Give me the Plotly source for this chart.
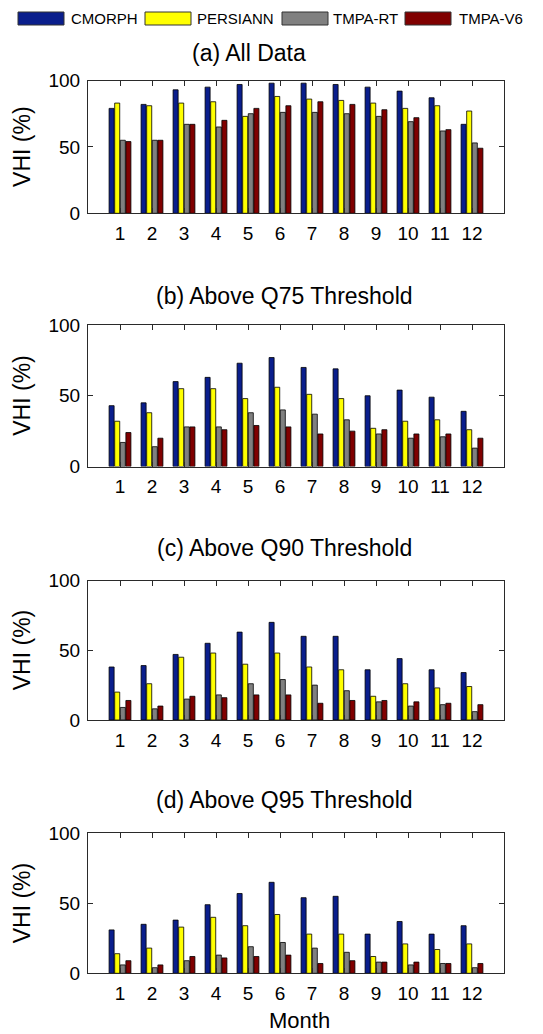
import plotly.graph_objects as go
from plotly.subplots import make_subplots

# month numbers on the x axis
months = list(range(1, 13))

products = ["CMORPH", "PERSIANN", "TMPA-RT", "TMPA-V6"]
colors = ["#0A1E8C", "#FFFF00", "#808080", "#800000"]

# (a) All Data
all_cmorph = [79, 82, 93, 95, 97, 98, 98, 97, 95, 92, 87, 67]
all_persiann = [83, 81, 83, 84, 73, 88, 86, 85, 83, 79, 81, 77]
all_rt = [55, 55, 67, 65, 75, 76, 76, 75, 73, 69, 62, 53]
all_v6 = [54, 55, 67, 70, 79, 81, 84, 82, 78, 72, 63, 49]

# (b) Above Q75
q75_cmorph = [43, 45, 60, 63, 73, 77, 70, 69, 50, 54, 49, 39]
q75_persiann = [32, 38, 55, 55, 48, 56, 51, 48, 27, 32, 33, 26]
q75_rt = [17, 14, 28, 28, 38, 40, 37, 33, 23, 20, 21, 13]
q75_v6 = [24, 20, 28, 26, 29, 28, 23, 25, 26, 23, 23, 20]

# (c) Above Q90
q90_cmorph = [38, 39, 47, 55, 63, 70, 60, 60, 36, 44, 36, 34]
q90_persiann = [20, 26, 45, 48, 40, 48, 38, 36, 17, 26, 23, 24]
q90_rt = [9, 8, 15, 18, 26, 29, 25, 21, 13, 10, 11, 6]
q90_v6 = [14, 10, 17, 16, 18, 18, 12, 14, 14, 13, 12, 11]

# (d) Above Q95
q95_cmorph = [31, 35, 38, 49, 57, 65, 54, 55, 28, 37, 28, 34]
q95_persiann = [14, 18, 33, 40, 34, 42, 28, 28, 12, 21, 17, 21]
q95_rt = [6, 4, 9, 13, 19, 22, 18, 15, 8, 6, 7, 4]
q95_v6 = [9, 6, 12, 11, 12, 13, 7, 9, 8, 8, 7, 7]

panels = [
    ("(a) All Data", [all_cmorph, all_persiann, all_rt, all_v6]),
    ("(b) Above Q75 Threshold", [q75_cmorph, q75_persiann, q75_rt, q75_v6]),
    ("(c) Above Q90 Threshold", [q90_cmorph, q90_persiann, q90_rt, q90_v6]),
    ("(d) Above Q95 Threshold", [q95_cmorph, q95_persiann, q95_rt, q95_v6]),
]

# page has an 8px body margin, so the figure is drawn 8px smaller and
# all positions below are given in window pixels
OFF = 8
W, H = 543 - OFF, 1034 - OFF
FONT = "Liberation Sans, Arial, sans-serif"
AXIS_COLOR = "#2a2a2a"

# panel extents in pixels (top, bottom), title centre (x, y)
panel_px = [
    (80.5, 213.3, 249, 53),
    (325, 466.5, 284, 296),
    (580.5, 720, 284, 548),
    (833.3, 973.3, 284, 800),
]
x_px = (88, 504)


def px_x(v):
    return (v - OFF) / W


def px_y(v):
    return 1 - (v - OFF) / H


def label(x, y, text, size, **kw):
    fig.add_annotation(
        x=px_x(x), y=px_y(y), xref="paper", yref="paper",
        xanchor=kw.pop("xanchor", "center"), yanchor="middle",
        text=text, showarrow=False,
        font=dict(family=FONT, size=size, color="black"), **kw,
    )


fig = make_subplots(rows=4, cols=1)

for i, (title, series) in enumerate(panels):
    row = i + 1
    for name, vals, col in zip(products, series, colors):
        fig.add_trace(
            go.Bar(
                x=months, y=vals, name=name, showlegend=False,
                marker=dict(color=col, line=dict(color="black", width=0.8)),
            ),
            row=row, col=1,
        )
    top, bottom, title_x, title_y = panel_px[i]
    xa = "xaxis" if row == 1 else f"xaxis{row}"
    ya = "yaxis" if row == 1 else f"yaxis{row}"
    fig.layout[xa].update(
        domain=[px_x(x_px[0]), px_x(x_px[1])], range=[0, 13], automargin=False,
        tickmode="array", tickvals=months, ticks="inside", ticklen=5,
        tickcolor=AXIS_COLOR, showline=True, linecolor=AXIS_COLOR, linewidth=1,
        mirror="ticks", showgrid=False, zeroline=False, ticklabelstandoff=3,
        tickfont=dict(family=FONT, size=19, color="black"),
    )
    fig.layout[ya].update(
        domain=[px_y(bottom), px_y(top)], range=[0, 100], automargin=False,
        tickvals=[0, 50, 100], ticks="inside", ticklen=5,
        tickcolor=AXIS_COLOR, showline=True, linecolor=AXIS_COLOR, linewidth=1,
        mirror="ticks", showgrid=False, zeroline=False, ticklabelstandoff=3,
        tickfont=dict(family=FONT, size=19, color="black"),
    )
    label(title_x, title_y, title, 23)
    label(22, (top + bottom) / 2, "VHI (%)", 23, textangle=-90)

label(299, 1020, "Month", 22)

# legend drawn as wide swatches like the original
legend_items = [(18, 69), (145, 195), (282, 331), (405, 457)]
for (sx, tx), name, col in zip(legend_items, products, colors):
    fig.add_shape(
        type="rect", xref="paper", yref="paper",
        x0=px_x(sx), x1=px_x(sx + 46), y0=px_y(25), y1=px_y(12),
        fillcolor=col, line=dict(color="#333333", width=1),
    )
    label(tx, 19, name, 15, xanchor="left")

fig.update_layout(
    width=W, height=H, margin=dict(l=0, r=0, t=0, b=0, autoexpand=False),
    barmode="group", bargap=0.3, bargroupgap=0.1,
    plot_bgcolor="white", paper_bgcolor="white",
    font=dict(family=FONT, color="black"),
)

fig.write_html("out.html")
